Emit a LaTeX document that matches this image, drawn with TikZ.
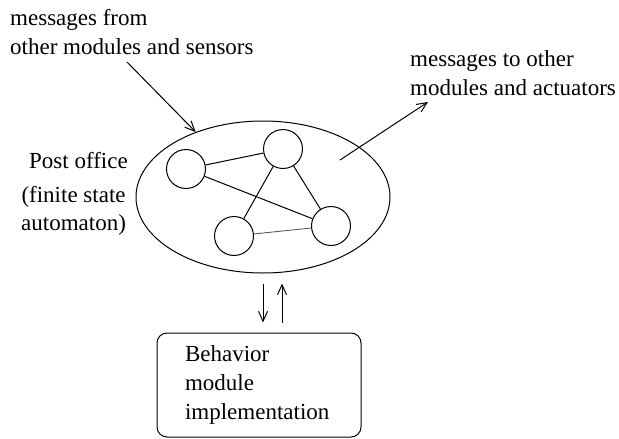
\documentclass[tikz,border=0pt]{standalone}
\usepackage{fontspec}
\setmainfont{Liberation Serif}
\usetikzlibrary{arrows.meta,shapes.geometric}

\tikzset{
  lbl/.style={inner sep=0pt, font=\fontsize{23}{29}\selectfont},
  state/.style={draw, circle, minimum size=39pt, inner sep=0pt, line width=1pt},
  link/.style={line width=1pt},
  weaklink/.style={line width=0.8pt, black!70},
  msg/.style={line width=1pt, -{Straight Barb[length=10pt,width=9pt,line width=1pt]}},
}

\begin{document}
\begin{tikzpicture}[x=1pt, y=-1pt]
  \useasboundingbox (0,0) rectangle (619,439);

  % post office: the finite state automaton
  \node[draw, ellipse, line width=1pt, minimum width=254pt, minimum height=152pt, inner sep=0pt] (po) at (263,197) {};
  \node[state] (a) at (186,169) {};
  \node[state] (b) at (283,149) {};
  \node[state] (c) at (234,236) {};
  \node[state] (d) at (331,226) {};
  \draw[link] (a) -- (b);
  \draw[link] (a) -- (d);
  \draw[link] (b) -- (c);
  \draw[link] (b) -- (d);
  \draw[weaklink] (c) -- (d);

  % behaviour module
  \node[draw, rounded corners=10pt, line width=1pt, minimum width=204pt, minimum height=104pt,
        text width=148pt, align=left, lbl] (bm) at (259,385)
        {Behavior\\module\\implementation};

  % labels (base anchor = baseline of the last line)
  \node[lbl, anchor=base west, align=left] (from) at (10,54)
        {messages from\\other modules and sensors};
  \node[lbl, anchor=base west, align=left] (to) at (410,95)
        {messages to other\\modules and actuators};
  \node[lbl, anchor=base east] (poname) at (128,168) {Post office};
  \node[lbl, anchor=base west, align=center, font=\fontsize{23}{28}\selectfont] (fsa) at (21,230)
        {(finite state\\automaton)};

  % incoming and outgoing messages
  \coordinate (insrc) at (127,62);
  \coordinate (outsrc) at (340,160);
  \coordinate (outdst) at (428,102);
  \draw[msg] (insrc) -- (po.136);
  \draw[msg] (outsrc) -- (outdst);

  % exchange between post office and behaviour module
  \draw[msg] ([yshift=-10pt]po.south) -- ([xshift=4pt,yshift=10pt]bm.north);
  \draw[msg] ([xshift=23pt,yshift=10pt]bm.north) -- ([xshift=19pt,yshift=-10pt]po.south);
\end{tikzpicture}
\end{document}
